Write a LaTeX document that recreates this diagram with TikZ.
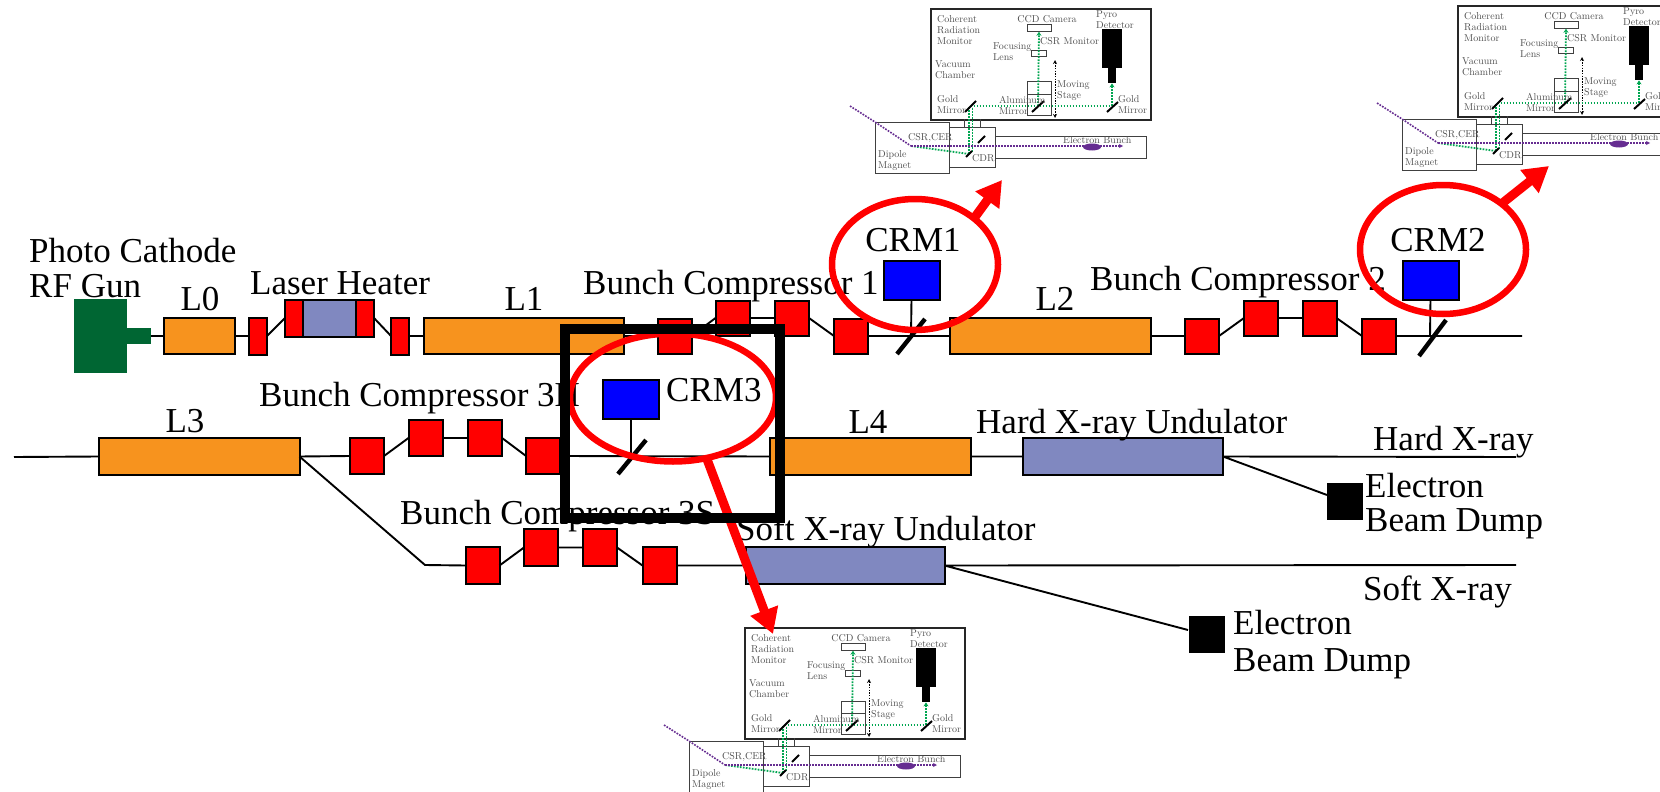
\documentclass[tikz,border=0pt]{standalone}
\usepackage{fontspec}
\newfontfamily\timesf{Liberation Serif}
\usetikzlibrary{shapes.geometric,arrows.meta}
\definecolor{orangeb}{HTML}{F7931E}
\definecolor{periw}{HTML}{8088C0}
\definecolor{gunc}{HTML}{006633}
\definecolor{greenr}{HTML}{00A651}
\definecolor{purpr}{HTML}{662D91}
\definecolor{insettext}{HTML}{505050}
\tikzset{
  x=1pt,y=-1pt,
  box/.style={draw=black,line width=2pt,inner sep=0pt,outer sep=0pt},
  linac/.style={box,fill=orangeb,minimum width=#1,minimum height=36pt},
  undul/.style={box,fill=periw,minimum width=#1,minimum height=36pt},
  mag/.style={box,fill=red,minimum width=34pt,minimum height=35pt},
  nmag/.style={box,fill=red,minimum width=18pt,minimum height=37pt},
  mon/.style={box,fill=blue,minimum width=56pt,minimum height=39pt},
  dump/.style={fill=black,inner sep=0pt,outer sep=0pt,minimum width=36pt,minimum height=37pt},
  beam/.style={draw=black,line width=1.9pt},
  mirror/.style={draw=black,line width=4.4pt},
  ring/.style={shape=ellipse,draw=red,line width=6.5pt,inner sep=0pt,outer sep=0pt},
  redarrow/.style={draw=red,fill=red,line width=9pt,-{Triangle[length=25pt,width=28pt]}},
  lab/.style={anchor=base west,inner sep=0pt,yshift=-2pt,font=\timesf\fontsize{35}{35}\selectfont},
  clab/.style={lab,anchor=base},
  itxt/.style={anchor=west,inner sep=0pt,text=insettext,align=left,font=\fontsize{10}{11}\selectfont},
  ibox/.style={draw=black!75,line width=1pt,inner sep=0pt,outer sep=0pt},
  gpath/.style={draw=greenr,line width=1.8pt,dash pattern=on 1.7pt off 1.3pt},
  ppath/.style={draw=purpr,line width=1.6pt,dash pattern=on 1.7pt off 1.3pt},
  imirror/.style={draw=black,line width=2pt},
  inset/.pic={
    % outer chamber
    \node[draw=black!85,fill=white,line width=2.4pt,inner sep=0pt,minimum width=220pt,minimum height=111pt,anchor=north west] (-chamber) at (0,0) {};
    \node[ibox,fill=white,anchor=north west,minimum width=46pt,minimum height=40pt] (-cdr) at (19,119) {};
    \node[ibox,fill=white,anchor=north west,minimum width=74pt,minimum height=51pt] (-dipole) at (-55,114) {};
    \coordinate (-ta) at (65,128); \coordinate (-tb) at (216,128);
    \coordinate (-tc) at (216,150); \coordinate (-td) at (65,150);
    \draw[ibox] (-ta) -- (-tb) -- (-tc) -- (-td);
    \coordinate (-pa) at (34,111); \coordinate (-pb) at (34,119);
    \coordinate (-pc) at (50,111); \coordinate (-pd) at (50,119);
    \draw[ibox] (-pa) -- (-pb) (-pc) -- (-pd);
    % camera, lens, stage
    \node[ibox,fill=white,minimum width=24pt,minimum height=7.5pt] (-cam) at (109,20) {};
    \node[ibox,fill=white,minimum width=15pt,minimum height=6pt] (-lens) at (108.5,46) {};
    \node[ibox,minimum width=24pt,minimum height=33pt,anchor=north] (-stage) at (109,74) {};
    \coordinate (-sl) at (97,86); \coordinate (-sr) at (121,86);
    \draw[ibox] (-sl) -- (-sr);
    \node[fill=black,inner sep=0pt,minimum width=20pt,minimum height=39pt,anchor=north] (-pyro) at (182,21) {};
    \node[fill=black,inner sep=0pt,minimum width=8pt,minimum height=15pt,anchor=north] (-pyron) at (182,60) {};
    % moving stage arrow
    \coordinate (-mva) at (125,52); \coordinate (-mvb) at (125,110);
    \draw[black,line width=0.9pt,dash pattern=on 1.5pt off 1.2pt,{Stealth[length=4pt,width=4pt,open]}-{Stealth[length=4pt,width=4pt,open]}] (-mva) -- (-mvb);
    % optical paths
    \coordinate (-gl) at (40.5,98); \coordinate (-al) at (108,98); \coordinate (-gr) at (182,98);
    \coordinate (-cm) at (39,146); \coordinate (-cmb) at (42.5,144);
    \coordinate (-cg) at (39,99); \coordinate (-cgb) at (42.5,99);
    \coordinate (-src) at (-19,138);
    \draw[gpath] (-gl) -- (-gr);
    \draw[gpath,-{Stealth[length=4pt,width=5pt]}] (-al) -- (-cam.south);
    \draw[gpath,-{Stealth[length=4pt,width=5pt]}] (-gr) -- (-pyron.south);
    \draw[gpath] (-cm) -- (-cg) (-cmb) -- (-cgb);
    \draw[gpath] (-src) -- (-cm);
    \coordinate (-pin) at (-80,98); \coordinate (-pmid) at (-55,114); \coordinate (-pend) at (193,138);
    \draw[ppath] (-pin) -- (-pmid) -- (-src);
    \draw[ppath,-{Stealth[length=4pt,width=4pt,open]}] (-src) -- (-pend);
    \node[fill=purpr,shape=ellipse,inner sep=0pt,minimum width=18pt,minimum height=7pt] (-bunch) at (162,139) {};
    % mirrors
    \coordinate (-m1a) at (35,104); \coordinate (-m1b) at (46,93);
    \coordinate (-m2a) at (102,104); \coordinate (-m2b) at (114,93);
    \coordinate (-m3a) at (177,104); \coordinate (-m3b) at (188,94);
    \coordinate (-m4a) at (36,149); \coordinate (-m4b) at (42,143);
    \coordinate (-m5a) at (48,135); \coordinate (-m5b) at (55,128);
    \draw[imirror] (-m1a) -- (-m1b) (-m2a) -- (-m2b) (-m3a) -- (-m3b) (-m4a) -- (-m4b) (-m5a) -- (-m5b);
    % labels
    \node[itxt] (-t1) at (7,22) {Coherent\\Radiation\\Monitor};
    \node[itxt,anchor=center] (-t2) at (117,11) {CCD Camera};
    \node[itxt] (-t3) at (110,33) {CSR Monitor};
    \node[itxt] (-t4) at (63,44) {Focusing\\Lens};
    \node[itxt] (-t5) at (5,62) {Vacuum\\Chamber};
    \node[itxt] (-t6) at (127,82.5) {Moving\\Stage};
    \node[itxt] (-t7) at (7,97) {Gold\\Mirror};
    \node[itxt] (-t8) at (69,97) {Aluminum\\Mirror};
    \node[itxt] (-t9) at (188,97) {Gold\\Mirror};
    \node[itxt] (-t10) at (166,12) {Pyro\\Detector};
    \node[itxt] (-t11) at (-22,130) {CSR,CER};
    \node[itxt] (-t12) at (42,150) {CDR};
    \node[itxt] (-t13) at (133,132) {Electron Bunch};
    \node[itxt] (-t14) at (-52,153) {Dipole\\Magnet};
  },
}
\begin{document}
\begin{tikzpicture}
\useasboundingbox (0,0) rectangle (1660,792);
\clip (0,0) rectangle (1660,792);
\fill[white] (0,0) rectangle (1660,792);
% --- gun and first line
\node[fill=gunc,inner sep=0pt,outer sep=0pt,minimum width=53pt,minimum height=74pt] (gun) at (100.5,336) {};
\node[fill=gunc,inner sep=0pt,outer sep=0pt,minimum width=24pt,minimum height=16pt] (stub) at (139,336) {};
\node[linac=71pt] (L0) at (199.5,336) {};
\node[nmag] (a1) at (258,336) {};
\node[nmag] (lhl) at (294,318) {};
\node[undul=53pt,minimum height=37pt] (lhu) at (329.5,318) {};
\node[nmag] (lhr) at (365,318) {};
\node[nmag] (a2) at (400,336) {};
\node[linac=200pt] (L1) at (524,336) {};
\node[mag] (b1) at (674.5,336) {};
\node[mag] (b2) at (732.5,318) {};
\node[mag] (b3) at (792,318) {};
\node[mag] (b4) at (851,336) {};
\node[linac=201pt] (L2) at (1050.5,336) {};
\node[mag] (c1) at (1202,336) {};
\node[mag] (c2) at (1261,318) {};
\node[mag] (c3) at (1319.5,318) {};
\node[mag] (c4) at (1379,336) {};
\coordinate (topend) at (1522,336);
\draw[beam] (stub.east) -- (L0.west) (L0.east) -- (a1.west) (a1.east) -- (lhl.west)
  (lhr.east) -- (a2.west) (a2.east) -- (L1.west) (L1.east) -- (b1.west)
  (b1.east) -- (b2.west) (b2.east) -- (b3.west) (b3.east) -- (b4.west) (b4.east) -- (L2.west)
  (L2.east) -- (c1.west) (c1.east) -- (c2.west) (c2.east) -- (c3.west) (c3.east) -- (c4.west)
  (c4.east) -- (topend);
% --- second line
\coordinate (start) at (14,457);
\node[linac=201pt,minimum height=37pt] (L3) at (199,456.5) {};
\node[mag,minimum height=36pt] (d1) at (367,456) {};
\node[mag,minimum height=36pt] (d2) at (425.5,438) {};
\node[mag,minimum height=36pt] (d3) at (485,438) {};
\node[mag,minimum height=36pt] (d4) at (543,456) {};
\node[linac=201pt,minimum height=37pt] (L4) at (870,456.5) {};
\node[undul=200pt,minimum height=37pt] (hu) at (1123,456.5) {};
\coordinate (hend) at (1516,457);
\node[dump] (hd) at (1345,501) {};
\coordinate (hdin) at (1327,495);
\draw[beam] (start) -- (L3.west) (L3.east) -- (d1.west) (d1.east) -- (d2.west) (d2.east) -- (d3.west)
  (d3.east) -- (d4.west) (d4.east) -- (L4.west) (L4.east) -- (hu.west) (hu.east) -- (hend)
  (hu.east) -- (hdin);
% --- third line
\coordinate (bend) at (425,565);
\node[mag,minimum height=37pt] (e1) at (482.5,565.5) {};
\node[mag,minimum height=37pt] (e2) at (541,547.5) {};
\node[mag,minimum height=37pt] (e3) at (600,547.5) {};
\node[mag,minimum height=37pt] (e4) at (659.5,565.5) {};
\node[undul=199pt,minimum height=37pt] (su) at (845,565.5) {};
\coordinate (send) at (1516,565);
\node[dump] (sd) at (1206.5,634.5) {};
\coordinate (sdin) at (1188,630);
\draw[beam] (L3.east) -- (bend) -- (e1.west) (e1.east) -- (e2.west) (e2.east) -- (e3.west)
  (e3.east) -- (e4.west) (e4.east) -- (su.west) (su.east) -- (send) (su.east) -- (sdin);
% --- monitors
\node[mon] (m1) at (911.5,280) {};
\node[mon] (m2) at (1430.5,280) {};
\node[mon] (m3) at (631,399.5) {};
\coordinate (x1) at (911,336); \coordinate (x1a) at (897,354); \coordinate (x1b) at (925,319);
\coordinate (x2) at (1430,336); \coordinate (x2a) at (1419,356); \coordinate (x2b) at (1446,320);
\coordinate (x3) at (631,456); \coordinate (x3a) at (618,474); \coordinate (x3b) at (646,440);
\draw[beam] (m1.south) -- (x1) (m2.south) -- (x2) (m3.south) -- (x3);
\draw[mirror] (x1a) -- (x1b) (x2a) -- (x2b) (x3a) -- (x3b);
% --- labels
\node[lab] (tgun) at (29,260) {Photo Cathode};
\node[lab] (tgunb) at (29,295) {RF Gun};
\node[clab] (tL0) at (200,308) {L0};
\node[lab] (tlh) at (250,292) {Laser Heater};
\node[clab] (tL1) at (524,308) {L1};
\node[lab] (tbc1) at (583,292) {Bunch Compressor 1};
\node[clab] (tL2) at (1055,308) {L2};
\node[lab] (tbc2) at (1090,288) {Bunch Compressor 2};
\node[clab] (tL3) at (185,430) {L3};
\node[lab] (tbc3h) at (259,404) {Bunch Compressor 3H};
\node[clab] (tL4) at (868,431) {L4};
\node[lab] (thu) at (976,431) {Hard X-ray Undulator};
\node[lab] (thx) at (1373,448) {Hard X-ray};
\node[lab] (tbc3s) at (400,522) {Bunch Compressor 3S};
\node[lab] (tsu) at (736,538) {Soft X-ray Undulator};
\node[lab] (tsx) at (1363,598) {Soft X-ray};
\node[lab] (td1) at (1365,495) {Electron};
\node[lab] (td1b) at (1365,529) {Beam Dump};
\node[lab] (td2) at (1233,632) {Electron};
\node[lab] (td2b) at (1233,669) {Beam Dump};
\node[clab] (tc1) at (913,249) {CRM1};
\node[clab] (tc2) at (1438,249) {CRM2};
\node[lab] (tc3) at (666,399) {CRM3};
% --- insets
\pic (ia) at (930,8) {inset};
\pic (ib) at (1457,5) {inset};
\pic (ic) at (744,627) {inset};
% --- rings and arrows
\node[ring,minimum width=166pt,minimum height=131pt] (r1) at (915,264.5) {};
\node[ring,minimum width=166pt,minimum height=129pt] (r2) at (1443,249.5) {};
\node[ring,minimum width=206pt,minimum height=128pt] (r3) at (673,397.5) {};
\coordinate (t1) at (1002,180);
\coordinate (t2) at (1549,166);
\coordinate (t3) at (773,634);
\draw[redarrow] (r1.38) -- (t1);
\draw[redarrow] (r2.38) -- (t2);
\draw[redarrow] (r3.-61) -- (t3);
% --- black frame
\node[draw=black,line width=10pt,inner sep=0pt,minimum width=215pt,minimum height=189pt] (frame) at (672.5,423.5) {};
\end{tikzpicture}
\end{document}
